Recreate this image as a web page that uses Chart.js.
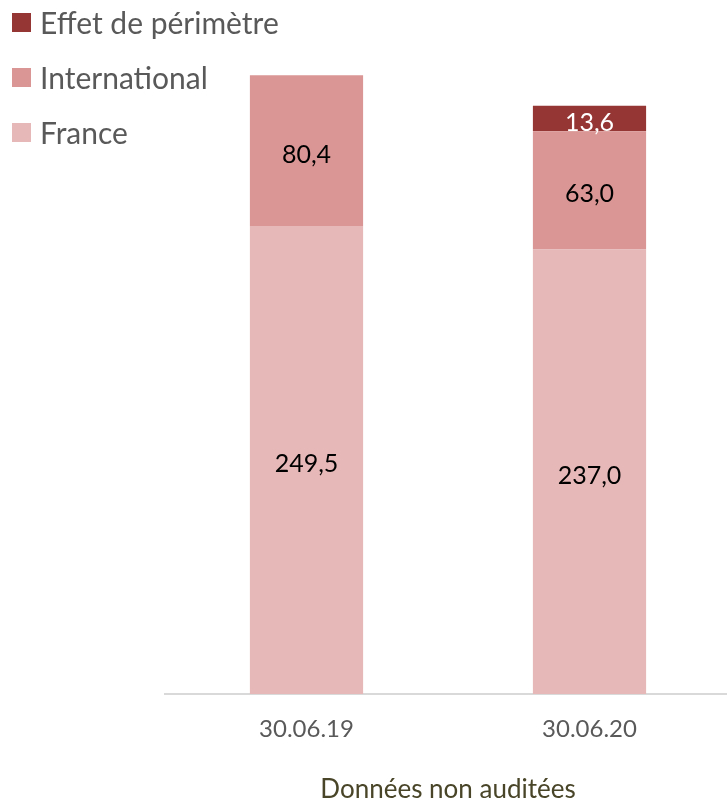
<!DOCTYPE html>
<html>
<head>
<meta charset="utf-8">
<script src="https://cdn.jsdelivr.net/npm/chart.js@4/dist/chart.umd.min.js"></script>
<style>
  html, body { margin: 0; padding: 0; background: #fff; overflow: hidden; }
  #wrap { position: relative; width: 727px; height: 801px; overflow: hidden; }
  #chart { position: absolute; left: 0; top: 0; }
  #legend { position: absolute; left: 0; top: 0; font-family: Lato, "Open Sans", sans-serif; font-size: 30px; color: #595959; }
  .item { position: absolute; left: 12px; height: 30px; white-space: nowrap; }
  .item span.box { position: absolute; left: 0; top: 5px; width: 19px; height: 19px; }
  .item span.txt { position: absolute; left: 28px; top: -4px; line-height: 36px; }
</style>
</head>
<body>
<div id="wrap">
  <canvas id="chart" width="731" height="801"></canvas>
  <div id="legend"></div>
</div>
<script>
const categories = ['30.06.19', '30.06.20'];
const france = [249.5, 237.0];
const international = [80.4, 63.0];
const perimetre = [null, 13.6];
const axisTitle = 'Données non auditées';

const colors = {
  france: '#E6B8B7',
  international: '#DA9694',
  perimetre: '#963634'
};

// legend (top to bottom, as in the original)
const legendItems = [
  { label: 'Effet de périmètre', color: colors.perimetre, y: 8 },
  { label: 'International', color: colors.international, y: 63 },
  { label: 'France', color: colors.france, y: 118 }
];
const legendDiv = document.getElementById('legend');
legendItems.forEach(it => {
  const d = document.createElement('div');
  d.className = 'item';
  d.style.top = it.y + 'px';
  d.innerHTML = `<span class="box" style="background:${it.color}"></span><span class="txt">${it.label}</span>`;
  legendDiv.appendChild(d);
});

// value labels in the middle of each segment
const valueLabels = {
  id: 'valueLabels',
  afterDatasetsDraw(chart) {
    const ctx = chart.ctx;
    ctx.save();
    ctx.font = '25px Lato, "Open Sans", sans-serif';
    ctx.textAlign = 'center';
    ctx.textBaseline = 'middle';
    chart.data.datasets.forEach((ds, i) => {
      const meta = chart.getDatasetMeta(i);
      meta.data.forEach((bar, j) => {
        const v = ds.data[j];
        if (v == null) return;
        const mid = (bar.y + bar.base) / 2;
        ctx.fillStyle = ds.labelColor;
        ctx.fillText(v.toFixed(1).replace('.', ','), bar.x, mid + 4);
      });
    });
    ctx.restore();
  }
};

const ctx = document.getElementById('chart').getContext('2d');
new Chart(ctx, {
  type: 'bar',
  data: {
    labels: categories,
    datasets: [
      { label: 'France', data: france, backgroundColor: colors.france, labelColor: '#000' },
      { label: 'International', data: international, backgroundColor: colors.international, labelColor: '#000' },
      { label: 'Effet de périmètre', data: perimetre, backgroundColor: colors.perimetre, labelColor: '#fff' }
    ]
  },
  options: {
    responsive: false,
    animation: false,
    devicePixelRatio: 1,
    categoryPercentage: 1,
    barPercentage: 0.4,
    layout: { padding: { left: 165, top: 0, right: 0, bottom: 0 } },
    plugins: {
      legend: { display: false },
      tooltip: { enabled: false }
    },
    scales: {
      x: {
        stacked: true,
        grid: { display: false },
        border: { display: true, color: '#D9D9D9', width: 2 },
        afterFit(scale) { scale.height = 107; },
        ticks: {
          color: '#595959',
          padding: 13,
          font: { family: 'Lato, "Open Sans", sans-serif', size: 24 }
        },
        title: {
          display: true,
          text: axisTitle,
          color: '#494529',
          padding: { top: 0, bottom: 0 },
          font: { family: 'Lato, "Open Sans", sans-serif', size: 26, lineHeight: 0.85 }
        }
      },
      y: {
        stacked: true,
        display: false,
        min: 0,
        max: 370
      }
    }
  },
  plugins: [valueLabels]
});
</script>
</body>
</html>
